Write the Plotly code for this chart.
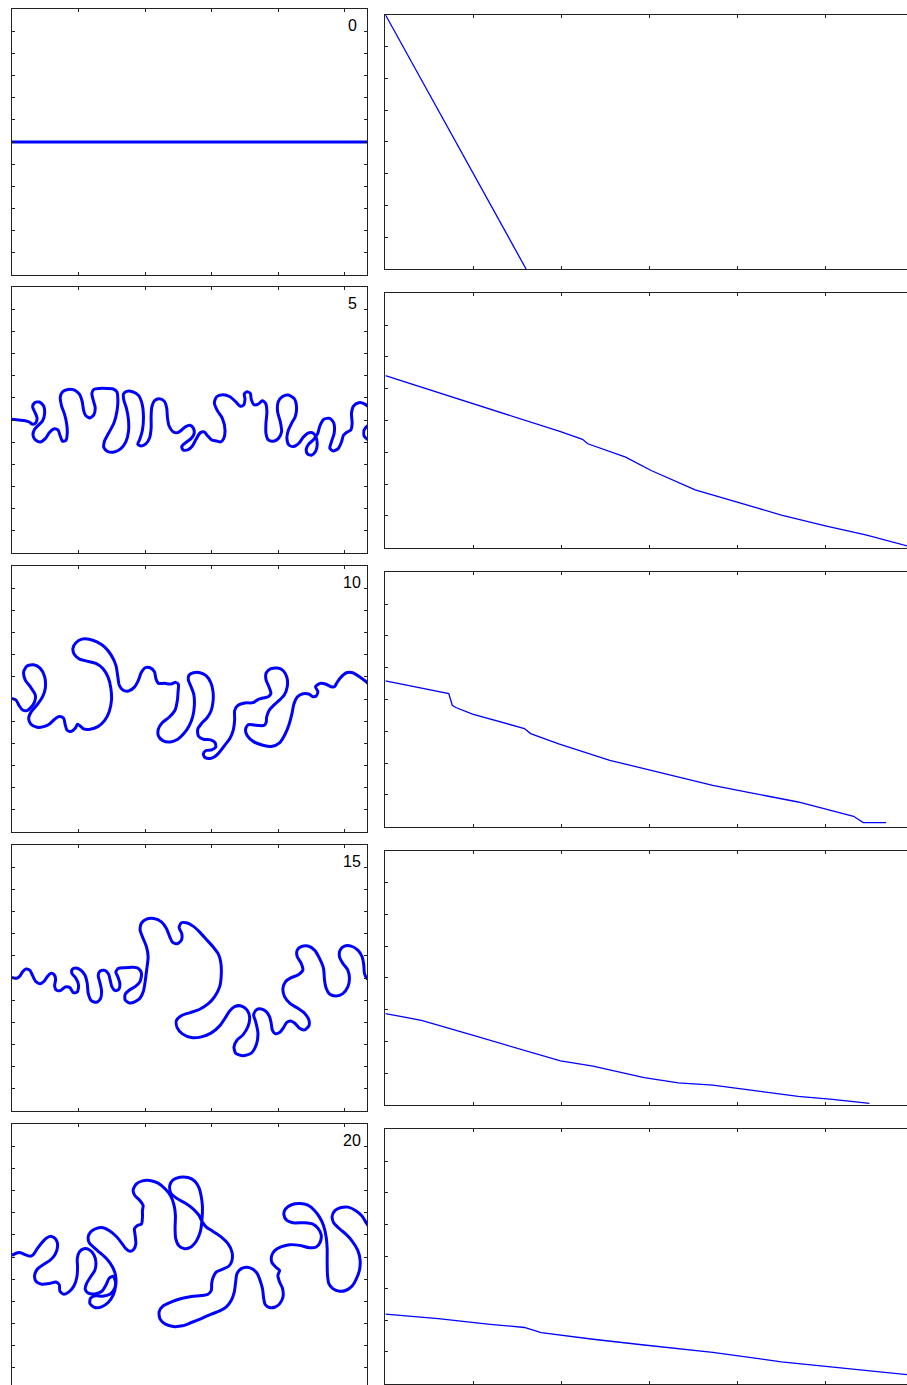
import plotly.graph_objects as go

# ---------------- data ----------------
frame_labels = ["0", "5", "10", "15", "20"]

# Left panels: interface position (x, y) at each frame
interface_t0 = [(0, 0), (160, 0)]

interface_t5 = [
    (0, 0.3), (3, 0), (6, -0.3), (7.8, -0.9), (9.3, -1.95), (10.8, -1.2), (11.25, 1.2), (10.2, 3.75),
    (9.3, 6), (10.2, 7.8), (12.3, 8.1), (14.25, 6.3), (14.7, 3), (13.8, -0.3), (12, -2.25), (10.2, -4.2),
    (9.45, -6.75), (10.5, -9), (12.75, -9.9), (15, -8.4), (16.8, -5.7), (18.75, -4.05), (20.7, -4.5),
    (21.75, -7.2), (22.8, -9.6), (24.3, -9.15), (24.9, -6), (24.6, -1.5), (23.7, 2.55), (22.35, 6.3),
    (21.75, 10.2), (22.8, 12.75), (25.2, 13.8), (28.2, 13.5), (30.45, 11.55), (31.65, 8.25), (32.25, 4.5),
    (33.15, 2.1), (35.1, 0.9), (36.9, 2.4), (37.5, 5.55), (36.6, 9), (36, 12), (36.9, 13.8), (39.3, 14.25),
    (42.75, 14.25), (45.3, 14.1), (47.25, 12.75), (47.7, 9.75), (47.4, 4.5), (45.9, -1.5), (43.5, -6),
    (41.7, -9.45), (41.4, -12.45), (43.2, -14.25), (46.05, -14.4), (49.05, -12.9), (51.3, -9.9),
    (52.5, -5.25), (52.5, 0), (51.6, 5.25), (50.4, 9), (50.25, 11.7), (51.75, 12.9), (54.3, 12.75),
    (57, 11.1), (58.65, 7.2), (59.25, 1.5), (58.8, -4.5), (57.6, -8.7), (56.7, -10.95), (58.2, -11.7),
    (60.3, -10.8), (61.95, -8.25), (62.7, -3.75), (62.7, 1.5), (63, 5.7), (64.2, 8.7), (66.45, 9.6),
    (68.7, 8.4), (69.75, 5.25), (70.05, 1.2), (70.8, -2.7), (72.6, -5.25), (74.7, -5.7), (76.5, -4.5),
    (78.3, -3), (80.25, -2.4), (81.75, -3.75), (82.05, -6.3), (80.7, -8.4), (78.3, -10.2), (76.5, -12),
    (77.1, -13.5), (79.2, -13.5), (81.3, -11.7), (82.95, -8.7), (84.9, -5.7), (86.7, -5.4), (88.2, -7.2),
    (90, -9), (92.25, -9.45), (94.05, -9.9), (95.4, -8.4), (96, -4.5), (94.8, 0.75), (92.55, 4.2),
    (91.2, 7.8), (92.25, 10.5), (94.95, 11.4), (98.25, 10.5), (100.8, 8.25), (102.75, 6.3), (104.4, 6.75),
    (105, 9.45), (104.7, 11.7), (105.9, 12.75), (107.4, 12), (107.85, 9.3), (109.05, 6.9), (111, 7.2),
    (112.8, 8.7), (114.3, 7.5), (114.9, 3.75), (114.45, -1.5), (114.45, -6), (115.5, -9), (117.75, -9.6),
    (120, -8.4), (121.5, -5.25), (120.9, -0.75), (119.7, 3.75), (120, 8.25), (121.8, 10.5), (124.5, 11.25),
    (127.2, 9.6), (128.25, 5.7), (127.65, 1.5), (126, -1.5), (124.5, -4.8), (123.9, -8.25), (124.8, -11.25),
    (126.9, -12), (129.3, -10.5), (131.25, -7.8), (133.2, -6), (135.3, -5.7), (136.95, -7.5),
    (137.55, -11.25), (136.8, -14.25), (135, -15.9), (133.2, -15.3), (132.6, -13.2), (133.8, -10.8),
    (135.75, -9), (137.7, -6.3), (138.75, -2.7), (140.55, 0.3), (143.25, 0.75), (145.05, -1.5),
    (145.2, -6), (144, -9.75), (143.25, -12.75), (144.75, -13.95), (147, -12.9), (148.5, -9.9),
    (149.4, -6.9), (150.9, -5.55), (152.7, -4.5), (153.3, -1.5), (153, 3), (153.9, 6.3), (156.3, 7.8),
    (159, 7.2), (161.25, 5.25), (162.75, 1.5), (162, -1.5), (160.2, -2.7), (158.7, -4.5), (158.7, -7.2),
    (160.2, -8.7), (162.75, -9.75),
]

interface_t10 = [
    (0, 0.3), (1.8, -0.45), (3.3, -3.15), (4.8, -4.95), (6.75, -5.25), (8.55, -3.75), (10.2, -1.2),
    (10.5, 1.8), (8.25, 5.55), (6, 8.55), (5.25, 12.3), (6.75, 14.85), (9.75, 15.45), (12.75, 13.8),
    (14.7, 10.05), (15, 4.8), (13.8, 1.05), (11.25, -2.7), (8.7, -5.7), (7.5, -8.7), (8.55, -11.4),
    (11.25, -12.75), (14.25, -12.45), (16.95, -11.25), (19.2, -9.15), (21.3, -7.95), (23.25, -8.7),
    (24, -11.7), (24.75, -13.95), (26.55, -14.7), (28.5, -13.2), (29.55, -11.4), (30.75, -12.15),
    (32.25, -13.5), (35.25, -13.65), (38.7, -12.45), (41.7, -9.75), (43.8, -5.7), (44.85, -0.45),
    (44.55, 4.8), (43.35, 9.75), (40.95, 13.8), (37.8, 16.05), (33.75, 17.1), (30.45, 18), (28.2, 19.95),
    (27.45, 22.8), (28.8, 25.35), (31.5, 27), (34.8, 27), (38.25, 25.8), (41.7, 23.55), (44.7, 19.8),
    (46.8, 15.3), (47.7, 10.05), (48.3, 6.3), (49.95, 4.05), (52.5, 3.6), (55.05, 5.25), (57, 8.55),
    (58.2, 11.85), (60, 14.1), (62.25, 14.1), (64.2, 12.3), (64.95, 8.85), (66, 7.05), (68.7, 7.05),
    (71.7, 6.75), (73.8, 7.5), (75, 6.6), (74.85, 3.3), (74.55, -0.45), (73.5, -4.95), (70.8, -8.25),
    (67.8, -10.65), (66, -13.5), (66, -16.65), (67.95, -18.75), (71.25, -19.35), (74.7, -18.15),
    (77.55, -15.45), (79.8, -12.15), (81.45, -7.95), (82.2, -2.7), (81.9, 2.25), (80.7, 5.55),
    (79.5, 8.55), (79.8, 10.8), (81.75, 11.85), (84.75, 11.85), (87.45, 10.5), (89.55, 7.5), (90.6, 3.3),
    (90.6, -1.2), (89.7, -5.4), (87.75, -8.7), (85.5, -10.95), (83.7, -13.65), (84, -16.65),
    (86.25, -18.15), (89.55, -18.45), (91.5, -19.65), (91.8, -21.75), (90, -22.95), (87.45, -23.25),
    (86.25, -24.75), (87, -26.4), (89.25, -26.85), (91.5, -25.95), (93.75, -23.7), (96, -20.7),
    (98.25, -17.7), (99.75, -13.95), (100.35, -9.45), (100.35, -5.25), (101.7, -3), (105, -1.8),
    (108.6, -1.65), (111, -0.15), (113.1, 0.45), (115.5, 1.05), (116.7, 2.55), (115.8, 5.55),
    (114.45, 8.85), (114.6, 11.85), (116.7, 13.65), (119.7, 13.95), (122.25, 12.75), (123.9, 9.75),
    (124.05, 5.55), (122.7, 1.8), (120.3, -0.75), (117.9, -2.85), (115.8, -5.25), (114.75, -8.25),
    (114.6, -10.35), (113.7, -11.85), (111.6, -12), (109.05, -11.7), (106.5, -11.55), (105.3, -13.5),
    (105.9, -16.35), (109.05, -19.35), (113.1, -20.85), (116.85, -21.45), (120.6, -19.8), (122.85, -16.35),
    (124.8, -11.7), (126.15, -6.75), (127.05, -2.25), (128.55, 0.9), (131.1, 2.4), (133.8, 2.25),
    (135.6, 1.05), (137.1, 1.35), (137.85, 3.3), (136.8, 5.55), (138.9, 7.05), (141.3, 6.75),
    (143.85, 5.55), (145.35, 5.55), (146.4, 7.35), (148.2, 9.75), (150.75, 11.85), (153.6, 11.85),
    (156.6, 10.05), (159.6, 7.8), (162, 5.55),
]

interface_t15 = [
    (0, 0.3), (2.1, -0.15), (3.6, 0.9), (4.8, 2.85), (6.3, 4.05), (8.1, 3.45), (9.3, 1.05), (10.8, -1.65),
    (12.6, -2.55), (14.4, -1.5), (15.9, 0.6), (17.4, 2.1), (18.9, 1.65), (19.65, -0.6), (19.2, -3.6),
    (20.1, -5.55), (22.05, -5.55), (24, -4.05), (26.1, -4.35), (27.6, -6.6), (29.4, -6.3), (30, -3.3),
    (28.8, -0.15), (27, 2.1), (27.15, 3.9), (28.8, 4.5), (30.9, 3.6), (32.85, 1.35), (33.9, -2.4),
    (34.35, -6.9), (35.85, -10.35), (38.1, -10.95), (39.9, -9.3), (40.35, -5.7), (39.6, -1.95),
    (38.85, 1.2), (39.75, 3.15), (41.85, 3.45), (43.5, 1.8), (44.25, -0.9), (45, -3.9), (46.5, -5.7),
    (48.15, -5.1), (48.6, -2.4), (47.7, 0.6), (46.8, 2.7), (48, 4.35), (50.85, 4.65), (54.6, 4.8),
    (56.85, 4.35), (58.35, 2.1), (57.75, -1.5), (55.5, -3.9), (52.95, -5.4), (51, -7.35), (51, -9.9),
    (52.95, -11.25), (55.5, -10.65), (57.75, -9), (59.25, -5.85), (60, -1.65), (60.75, 4.05), (61.35, 9.6),
    (60.6, 14.1), (59.1, 17.85), (57.75, 21.6), (58.35, 24.75), (60.6, 26.55), (63.9, 26.85),
    (67.35, 25.35), (69.6, 22.35), (71.1, 18.6), (72.3, 16.2), (74.4, 15.45), (76.35, 17.1), (76.5, 20.1),
    (75.3, 22.8), (76.35, 24.9), (78.6, 24.9), (81.6, 23.4), (84.6, 20.7), (87.6, 17.4), (90.6, 14.1),
    (92.85, 11.1), (94.05, 7.35), (94.35, 2.1), (93.6, -3.9), (91.35, -8.4), (88.35, -11.7), (84.6, -14.1),
    (80.4, -15.6), (76.65, -16.8), (74.1, -19.2), (74.4, -22.35), (76.8, -25.2), (80.85, -26.85),
    (85.35, -26.55), (89.85, -24.75), (93.6, -21.6), (96, -18.15), (98.1, -14.85), (100.35, -12.9),
    (103.35, -12.6), (105.9, -14.4), (107.1, -17.7), (106.35, -21.9), (104.1, -25.65), (101.4, -28.05),
    (100.05, -31.05), (100.8, -33.9), (104.1, -35.1), (107.85, -33.9), (110.1, -30.15), (110.85, -24.9),
    (109.8, -19.65), (108.9, -16.65), (110.1, -14.4), (112.35, -13.95), (114.6, -15.15), (116.1, -17.55),
    (116.85, -20.55), (117.3, -23.4), (118.5, -25.05), (120.6, -24.6), (122.4, -22.35), (123.75, -20.1),
    (125.55, -19.35), (127.5, -20.4), (129.6, -22.65), (131.85, -23.4), (133.8, -21.6), (133.8, -18.9),
    (131.85, -15.9), (128.85, -13.65), (125.4, -11.55), (122.85, -8.4), (122.1, -4.95), (123.3, -1.65),
    (125.85, 0.15), (128.85, 1.35), (131.1, 3.6), (130.35, 6.6), (128.55, 9.6), (128.55, 12.6),
    (130.35, 14.1), (133.35, 14.4), (136.35, 12.6), (138.6, 8.85), (140.4, 4.35), (140.85, -0.9),
    (141.6, -4.65), (143.1, -7.2), (146.1, -8.1), (149.1, -7.05), (151.35, -4.05), (152.1, -0.15),
    (151.35, 3.6), (149.1, 6.6), (147.6, 9.6), (147.9, 12.6), (149.85, 14.4), (152.85, 14.4),
    (155.85, 12.6), (157.8, 9.6), (158.55, 5.85), (158.85, 2.1), (159.9, -0.15), (161.85, -1.65),
]

interface_t20 = [
    (0, 0.75), (2.1, 1.8), (3.9, 1.95), (5.85, 1.05), (8.1, 0.3), (9.6, 1.05), (11.4, 3.75), (13.35, 6.3),
    (15.6, 8.55), (17.85, 9.3), (19.8, 7.95), (20.55, 4.8), (19.35, 1.05), (17.1, -1.5), (14.1, -3.45),
    (11.4, -5.55), (10.2, -8.25), (10.8, -10.95), (13.35, -12.3), (16.8, -12), (19.8, -11.25),
    (21.3, -12.45), (21.6, -15.45), (23.4, -16.8), (25.8, -15.6), (27.9, -13.05), (29.25, -9),
    (29.55, -4.5), (29.4, -0.75), (30.3, 2.25), (32.4, 3.75), (34.8, 3.3), (36.9, 1.05), (37.8, -2.25),
    (37.35, -6), (35.4, -9), (33.6, -12), (33, -14.55), (34.2, -16.2), (37.35, -16.65), (40.5, -15.45),
    (42.45, -12.45), (43.8, -9.6), (45.6, -8.7), (46.65, -11.25), (46.2, -14.25), (44.1, -16.8),
    (40.8, -17.7), (37.5, -17.55), (35.4, -18.6), (35.1, -21), (37.35, -22.8), (40.35, -22.5),
    (43.35, -20.55), (45.6, -17.25), (46.8, -12.45), (46.65, -8.25), (45.3, -4.5), (42.75, -0.9),
    (39.6, 1.95), (36.9, 4.35), (34.8, 6.45), (34.35, 9), (35.4, 11.25), (38.1, 12.9), (41.1, 13.2),
    (44.1, 11.7), (47.25, 9), (49.65, 6), (51.3, 3.75), (53.1, 2.55), (54.9, 3.45), (55.8, 6),
    (55.5, 9.75), (55.2, 12.75), (56.55, 14.25), (58.35, 14.85), (58.8, 18), (58.8, 21), (59.1, 23.25),
    (57.6, 25.5), (55.35, 27.75), (54.6, 30.3), (56.1, 33), (58.8, 34.35), (62.1, 34.5), (65.85, 33.3),
    (69.3, 30.45), (71.55, 27.45), (73.05, 23.25), (73.65, 18.75), (73.5, 12.75), (73.8, 8.25),
    (75.3, 4.95), (77.85, 3.75), (80.85, 4.65), (83.1, 7.2), (84.9, 11.55), (85.65, 17.25), (85.8, 23.25),
    (85.2, 27.75), (84.3, 31.2), (82.35, 34.2), (79.35, 35.85), (75.6, 36), (72.6, 34.8), (71.1, 32.25),
    (71.55, 28.95), (74.1, 26.55), (77.85, 24.45), (81.6, 21.75), (84.3, 18.75), (85.8, 15.75),
    (87.6, 13.5), (90.6, 11.55), (94.35, 9), (97.35, 6), (99.15, 2.25), (99.15, -1.5), (97.8, -4.05),
    (94.8, -5.55), (92.1, -6.75), (90.6, -9.3), (90, -12), (89.85, -15), (88.35, -16.8), (85.35, -17.4),
    (80.85, -17.85), (76.35, -18.75), (71.85, -20.25), (68.1, -22.05), (66.3, -24.75), (66.75, -28.05),
    (69.15, -30.3), (72.6, -31.35), (76.8, -31.05), (80.85, -29.55), (85.35, -27.75), (89.85, -25.8),
    (93.6, -24.3), (96.6, -22.5), (98.85, -19.5), (100.2, -15.75), (100.8, -11.25), (101.4, -7.5),
    (103.35, -5.25), (106.05, -4.65), (108.6, -5.55), (110.55, -7.5), (111.9, -10.8), (112.95, -14.55),
    (113.4, -18.45), (114.15, -21.45), (116.1, -22.8), (118.35, -22.65), (120.6, -21.15), (122.1, -18.15),
    (121.95, -14.25), (120.6, -11.25), (119.85, -8.25), (120.6, -6), (118.8, -4.5), (117.15, -2.55),
    (117, 0.45), (118.5, 3), (121.5, 4.65), (125.1, 5.55), (129.6, 5.25), (134.1, 4.2), (137.1, 4.5),
    (138.9, 6.75), (139.35, 10.05), (137.85, 13.05), (135.6, 14.85), (131.85, 15.45), (126.6, 15.45),
    (123.9, 16.5), (122.55, 19.05), (123.3, 21.75), (126.3, 23.7), (129.9, 24.15), (133.35, 23.4),
    (136.35, 21), (138.6, 18), (140.4, 14.25), (141.6, 9), (142.05, 3.75), (142.05, -2.25), (142.2, -8.25),
    (142.8, -12), (144.6, -14.25), (147.6, -15.45), (150.6, -15), (153.3, -13.05), (155.1, -10.05),
    (156.6, -6), (156.9, -1.5), (155.85, 3), (153.3, 7.2), (150.6, 10.2), (147.6, 12.75), (145.05, 15.3),
    (144.3, 18.45), (145.65, 21), (148.35, 22.35), (151.5, 22.5), (154.8, 21), (157.8, 18.45),
    (159.6, 15.45), (161.4, 12.75),
]

# Right panels: profile curves
profile_t0_x = [0, 1.6]
profile_t0_y = [8, 0]
profile_t5_x = [0, 0.99, 1.99, 2.24, 2.30, 2.73, 3.02, 3.52, 3.99, 4.50, 5.00, 5.47, 5.93]
profile_t5_y = [5.41, 4.54, 3.65, 3.41, 3.27, 2.85, 2.43, 1.82, 1.45, 1.03, 0.69, 0.40, 0.06]
profile_t10_x = [0, 0.72, 0.76, 0.80, 0.99, 1.58, 1.65, 1.97, 2.55, 3.13, 3.72, 4.11, 4.69, 5.32, 5.43, 5.69]
profile_t10_y = [4.59, 4.19, 3.82, 3.75, 3.54, 3.09, 2.93, 2.61, 2.09, 1.70, 1.30, 1.09, 0.78, 0.33, 0.13, 0.13]
profile_t15_x = [0, 0.41, 0.99, 1.58, 1.99, 2.36, 2.94, 3.33, 3.72, 4.11, 4.69, 5.08, 5.50]
profile_t15_y = [2.88, 2.67, 2.20, 1.73, 1.39, 1.23, 0.87, 0.70, 0.63, 0.49, 0.28, 0.18, 0.06]
profile_t20_x = [0, 0.60, 1.19, 1.58, 1.77, 2.36, 2.94, 3.72, 4.50, 5.28, 5.93]
profile_t20_y = [2.19, 2.05, 1.87, 1.77, 1.61, 1.40, 1.22, 0.99, 0.69, 0.46, 0.29]

# ---------------- layout ----------------
W, H = 907, 1385
LEFT_TOP = [9, 287, 566, 845, 1124]
LEFT_H = 266
LEFT_X = (12, 367)
RIGHT_TOP = [14.7, 293.3, 572.3, 850.7, 1129.3]
RIGHT_H = 254.5
RIGHT_X = (385.4, 907)

left_curves = [interface_t0, interface_t5, interface_t10, interface_t15, interface_t20]
profiles_x = [profile_t0_x, profile_t5_x, profile_t10_x, profile_t15_x, profile_t20_x]
profiles_y = [profile_t0_y, profile_t5_y, profile_t10_y, profile_t15_y, profile_t20_y]

BLUE = "#0000ff"
AX = "#222222"

fig = go.Figure()
layout = dict(
    width=W, height=H, margin=dict(l=0, r=0, t=0, b=0),
    paper_bgcolor="white", plot_bgcolor="white", showlegend=False,
    font=dict(family="Liberation Sans, Arial, sans-serif", color="black"),
)

base = dict(showgrid=False, zeroline=False, showticklabels=False, showline=True,
            linecolor=AX, linewidth=1, ticks="inside", ticklen=3, tickcolor=AX, tickwidth=1)

annotations = []
for i in range(5):
    nL, nR = 2 * i + 1, 2 * i + 2
    sL = "" if nL == 1 else str(nL)
    sR = str(nR)
    # left panel
    top = LEFT_TOP[i]
    bot = min(top + LEFT_H, H)
    ylo = 60 - (bot - top) * 120.0 / LEFT_H
    lx = [p[0] for p in left_curves[i]]
    ly = [p[1] for p in left_curves[i]]
    fig.add_trace(go.Scatter(x=lx, y=ly, mode="lines",
                             line=dict(color=BLUE, width=3, shape="spline", smoothing=0.7),
                             xaxis="x" + sL, yaxis="y" + sL, hoverinfo="skip"))
    xa = dict(base, domain=[LEFT_X[0] / W, LEFT_X[1] / W], range=[0, 160], tick0=0, dtick=30,
              anchor="y" + sL, mirror="ticks")
    if bot >= H:
        xa.update(side="top", mirror=False)
    ya = dict(base, domain=[1 - bot / H, 1 - top / H], range=[ylo, 60], tick0=0, dtick=10,
              anchor="x" + sL, mirror="ticks")
    layout["xaxis" + sL] = xa
    layout["yaxis" + sL] = ya
    annotations.append(dict(text=frame_labels[i], xref="x" + sL + " domain", yref="y" + sL + " domain",
                            x=(352.5 - LEFT_X[0]) / (LEFT_X[1] - LEFT_X[0]),
                            y=1 - 16.5 / (bot - top), xanchor="center", yanchor="middle",
                            showarrow=False, font=dict(size=16, color="black")))
    # right panel
    rtop = RIGHT_TOP[i]
    rbot = min(rtop + RIGHT_H, H)
    fig.add_trace(go.Scatter(x=profiles_x[i], y=profiles_y[i], mode="lines",
                             line=dict(color=BLUE, width=1.3),
                             xaxis="x" + sR, yaxis="y" + sR, hoverinfo="skip"))
    layout["xaxis" + sR] = dict(base, domain=[RIGHT_X[0] / W, 1], range=[0, (RIGHT_X[1] - RIGHT_X[0]) / 88.0],
                                tick0=0, dtick=1, anchor="y" + sR, mirror="ticks")
    layout["yaxis" + sR] = dict(base, domain=[1 - rbot / H, 1 - rtop / H], range=[0, 8], tick0=0, dtick=1,
                                anchor="x" + sR, mirror=False)

layout["annotations"] = annotations
fig.update_layout(**layout)
fig.write_html("out.html", config={"displayModeBar": False},
               post_script="document.body.style.margin='0';document.body.style.overflow='hidden';")
